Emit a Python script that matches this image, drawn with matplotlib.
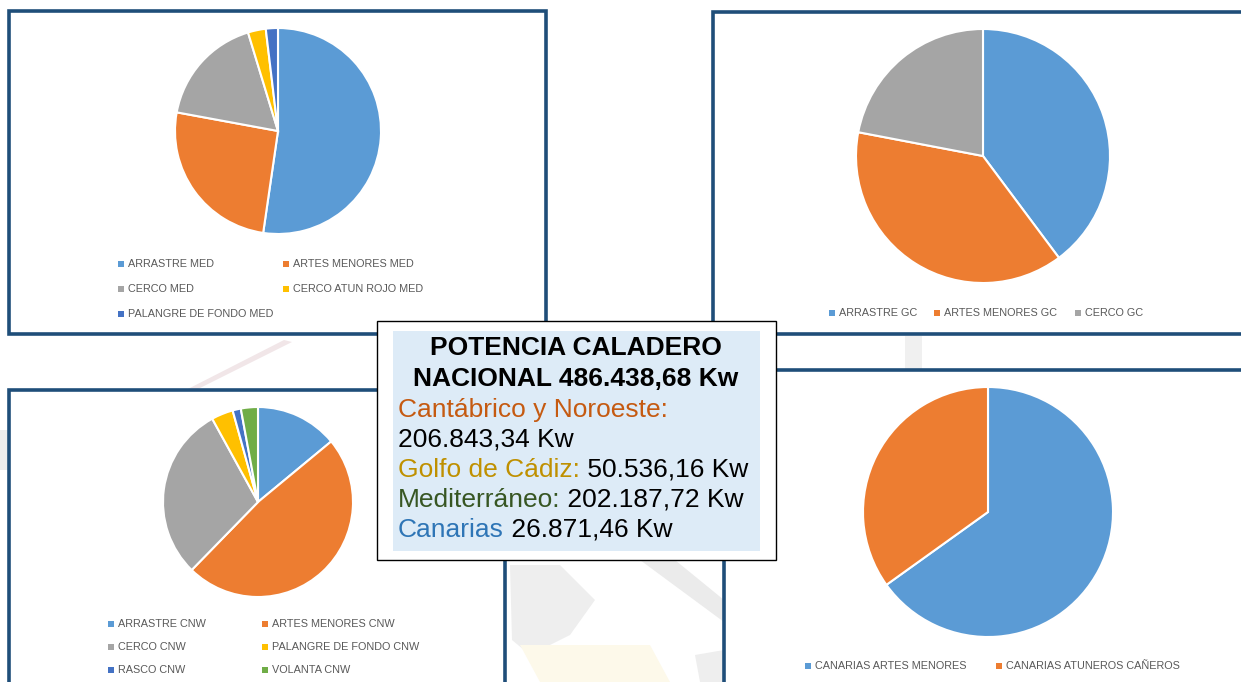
import numpy as np
import matplotlib.pyplot as plt
from matplotlib.patches import Rectangle, Polygon

W, H = 1241, 682

# shares of each fleet segment (%)
med_labels = ['ARRASTRE MED', 'ARTES MENORES MED', 'CERCO MED',
              'CERCO ATUN ROJO MED', 'PALANGRE DE FONDO MED']
med_values = [52.3, 25.6, 17.4, 2.8, 1.9]

gc_labels = ['ARRASTRE GC', 'ARTES MENORES GC', 'CERCO GC']
gc_values = [39.8, 38.2, 22.0]

cnw_labels = ['ARRASTRE CNW', 'ARTES MENORES CNW', 'CERCO CNW',
              'PALANGRE DE FONDO CNW', 'RASCO CNW', 'VOLANTA CNW']
cnw_values = [14.0, 48.3, 29.7, 3.7, 1.4, 2.9]

can_labels = ['CANARIAS ARTES MENORES', 'CANARIAS ATUNEROS CAÑEROS']
can_values = [65.1, 34.9]

title_lines = ['POTENCIA CALADERO', 'NACIONAL 486.438,68 Kw']
region_names = ['Cantábrico y Noroeste:', 'Golfo de Cádiz:', 'Mediterráneo:', 'Canarias']
region_kw = ['206.843,34 Kw', '50.536,16 Kw', '202.187,72 Kw', '26.871,46 Kw']

blue, orange, gray, yellow, dblue, green = '#5B9BD5', '#ED7D31', '#A5A5A5', '#FFC000', '#4472C4', '#70AD47'
region_colors = ['#C55A11', '#BF9000', '#375623', '#2E75B6']
border = '#1F4E79'

plt.rcParams['font.family'] = ['Liberation Sans']

fig = plt.figure(figsize=(W / 100, H / 100), dpi=100)
bg = fig.add_axes([0, 0, 1, 1])
bg.set_xlim(0, W)
bg.set_ylim(H, 0)
bg.axis('off')

# faint watermark behind the panels
wm = [
    ([(182, 392), (192, 392), (292, 342), (284, 340)], '#F1E6E8'),
    ([(510, 565), (560, 565), (595, 600), (570, 635), (530, 655), (512, 640)], '#EEEEEE'),
    ([(640, 560), (675, 560), (724, 600), (724, 622)], '#EBEBEB'),
    ([(520, 645), (650, 645), (670, 682), (540, 682)], '#FDF9EA'),
    ([(695, 655), (724, 650), (724, 682), (700, 682)], '#EEEEEE'),
    ([(905, 336), (922, 336), (922, 370), (905, 370)], '#F0F0F0'),
    ([(0, 430), (8, 430), (8, 470), (0, 470)], '#EEEEEE'),
]
for pts, c in wm:
    bg.add_patch(Polygon(pts, closed=True, color=c, zorder=0, lw=0))

# chart panels (x0, y0, x1, y1)
panels = [(9, 11, 546, 334), (713, 12, 1260, 334), (9, 390, 505, 700), (724, 370, 1260, 700)]
for x0, y0, x1, y1 in panels:
    bg.add_patch(Rectangle((x0, y0), x1 - x0, y1 - y0, facecolor='white',
                           edgecolor=border, lw=2.6, zorder=1))


def pie_panel(cx, cy, r, values, colors):
    k = 1.03
    ax = fig.add_axes([(cx - r * k) / W, 1 - (cy + r * k) / H, 2 * r * k / W, 2 * r * k / H])
    ax.pie(values, colors=colors, startangle=90, counterclock=False, radius=1,
           wedgeprops=dict(edgecolor='white', linewidth=1.5))
    ax.set_xlim(-k, k)
    ax.set_ylim(-k, k)
    ax.set_aspect('equal')
    ax.axis('off')


def legend(labels, colors, cols, rows):
    for i, (lab, c) in enumerate(zip(labels, colors)):
        x = cols[i % len(cols)]
        y = rows[i // len(cols)]
        bg.add_patch(Rectangle((x - 3, y - 3), 6, 6, color=c, lw=0, zorder=2))
        bg.text(x + 7, y, lab, fontsize=7.8, color='#595959',
                va='center', ha='left', zorder=2)


med_colors = [blue, orange, gray, yellow, dblue]
pie_panel(278, 131, 103, med_values, med_colors)
legend(med_labels, med_colors, [121, 286], [264, 289, 314])

gc_colors = [blue, orange, gray]
pie_panel(983, 156, 127, gc_values, gc_colors)
legend(gc_labels, gc_colors, [832, 937, 1078], [313])

cnw_colors = [blue, orange, gray, yellow, dblue, green]
pie_panel(258, 502, 95, cnw_values, cnw_colors)
legend(cnw_labels, cnw_colors, [111, 265], [624, 647, 670])

can_colors = [blue, orange]
pie_panel(988, 512, 125, can_values, can_colors)
legend(can_labels, can_colors, [808, 999], [666])

# central summary box
bg.add_patch(Rectangle((377, 321), 399, 239, facecolor='white', edgecolor='black', lw=1, zorder=5))
bg.add_patch(Rectangle((393, 331), 367, 220, facecolor='#DDEBF7', lw=0, zorder=6))
for i, t in enumerate(title_lines):
    bg.text(576, 348 + i * 31, t, fontsize=19, fontweight='bold', color='black',
            ha='center', va='center', zorder=7)

rend = fig.canvas.get_renderer()
inv = bg.transData.inverted()
y = 410
for name, kw, c in zip(region_names, region_kw, region_colors):
    t = bg.text(398, y, name, fontsize=19, color=c, ha='left', va='center', zorder=7)
    if name.startswith('Cant'):
        y += 30
        bg.text(398, y, kw, fontsize=19, color='black', ha='left', va='center', zorder=7)
    else:
        bb = t.get_window_extent(renderer=rend)
        x1 = inv.transform((bb.x1, bb.y0))[0]
        bg.text(x1, y, ' ' + kw, fontsize=19, color='black', ha='left', va='center', zorder=7)
    y += 30

fig.savefig('out.png', dpi=100)
